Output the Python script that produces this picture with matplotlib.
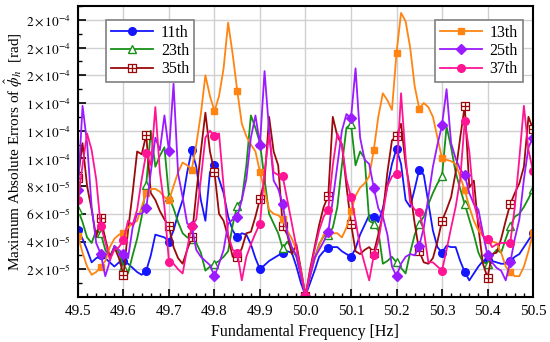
import numpy as np
import matplotlib
matplotlib.use("Agg")
from matplotlib import pyplot as plt
from matplotlib.path import Path
from matplotlib.ticker import MultipleLocator, FuncFormatter

plt.rcParams['font.family'] = 'serif'
plt.rcParams['font.serif'] = ['Liberation Serif', 'DejaVu Serif']
plt.rcParams['mathtext.fontset'] = 'stix'

# frequency grid 49.50 ... 50.50 Hz, step 0.01
freq = np.round(np.arange(49.5, 50.5001, 0.01), 2)

# errors, in units of 1e-5 rad
h11 = [4.8, 4.2, 3.4, 2.5, 2.8, 3.0, 2.8, 2.5, 2.2, 2.5,
       2.6, 2.4, 2.1, 1.8, 1.6, 1.9, 3.0, 4.5, 4.4, 4.3,
       4.0, 4.8, 6.0, 7.0, 9.0, 10.6, 9.4, 7.0, 5.5, 9.0,
       9.5, 8.5, 7.5, 5.8, 4.8, 4.3, 4.6, 4.5, 3.8, 2.8,
       2.0, 2.3, 2.6, 2.8, 3.0, 3.2, 3.3, 3.2, 2.2, 1.0,
       0.1, 1.0, 1.9, 2.9, 3.3, 3.5, 3.6, 3.6, 3.3, 3.1,
       2.9, 3.5, 4.5, 5.2, 5.9, 5.8, 5.4, 6.4, 8.0, 9.6,
       10.7, 9.6, 7.0, 6.5, 7.8, 9.2, 8.8, 6.8, 4.8, 3.6,
       3.2, 3.7, 3.6, 3.6, 2.6, 1.8, 1.2, 1.7, 2.2, 2.6,
       2.7, 2.6, 2.5, 2.4, 2.4, 2.6, 2.9, 3.1, 3.6, 4.1,
       4.6]
h13 = [4.4, 3.2, 2.2, 1.6, 1.8, 2.2, 2.6, 3.6, 4.2, 4.5,
       4.6, 5.0, 5.3, 5.5, 6.5, 7.5, 7.8, 7.8, 7.6, 7.2,
       7.0, 8.0, 9.0, 9.7, 9.5, 9.2, 11.0, 13.2, 16.0, 14.5,
       13.4, 14.5, 16.5, 19.8, 17.5, 14.9, 12.5, 11.6, 11.0, 10.5,
       9.0, 7.7, 6.3, 6.0, 5.9, 5.6, 4.8, 4.2, 3.4, 1.8,
       0.1, 1.5, 2.7, 3.7, 4.5, 4.6, 4.6, 4.6, 4.3, 5.0,
       6.2, 7.3, 7.9, 8.2, 8.7, 10.6, 13.0, 14.7, 14.2, 13.5,
       17.6, 20.5, 19.9, 18.0, 15.2, 13.6, 14.0, 13.7, 13.0, 11.5,
       10.0, 9.9, 9.8, 9.6, 8.7, 7.7, 6.5, 5.5, 4.8, 4.4,
       4.1, 4.0, 3.9, 3.2, 2.2, 1.8, 1.5, 1.5, 2.2, 3.3,
       4.6]
h23 = [6.3, 5.4, 4.3, 3.9, 4.8, 4.6, 3.4, 2.9, 3.6, 3.2,
       2.2, 1.7, 3.0, 4.2, 5.8, 8.1, 12.0, 9.4, 10.2, 10.8,
       7.2, 6.4, 5.4, 4.6, 4.3, 4.2, 3.9, 3.2, 1.9, 2.2,
       2.4, 2.6, 2.9, 3.3, 5.2, 6.6, 7.0, 9.5, 13.1, 12.2,
       11.1, 8.5, 6.0, 5.3, 4.6, 3.5, 4.0, 3.5, 2.9, 1.5,
       0.1, 1.5, 2.8, 3.8, 4.4, 4.5, 5.0, 6.5, 9.5, 12.2,
       12.5, 9.5, 10.5, 10.0, 5.5, 5.3, 4.8, 2.4, 2.6, 2.9,
       2.5, 2.1, 1.7, 3.2, 4.5, 5.3, 5.8, 6.7, 7.5, 8.2,
       8.7, 12.3, 10.8, 9.0, 7.8, 6.7, 5.6, 4.5, 3.2, 2.5,
       2.4, 3.0, 3.4, 3.2, 4.2, 5.1, 5.8, 6.0, 6.5, 7.1,
       7.8]
h25 = [7.7, 13.8, 11.1, 6.5, 3.9, 3.1, 1.5, 2.6, 3.7, 3.4,
       3.1, 2.8, 5.0, 6.0, 6.0, 6.4, 9.0, 11.5, 10.6, 13.1,
       10.5, 15.4, 8.9, 7.2, 5.3, 5.1, 3.4, 2.9, 2.6, 2.3,
       1.5, 2.4, 3.4, 5.3, 5.6, 5.8, 7.0, 8.5, 11.5, 13.1,
       11.0, 16.3, 12.0, 8.4, 7.8, 6.7, 4.6, 3.6, 3.0, 1.5,
       0.1, 1.5, 2.8, 3.4, 4.0, 4.7, 7.0, 9.5, 12.0, 13.2,
       12.9, 16.5, 11.5, 9.9, 9.6, 7.9, 6.4, 5.8, 4.5, 2.2,
       1.5, 2.4, 2.9, 3.1, 3.0, 3.7, 5.0, 7.2, 9.4, 11.0,
       12.4, 15.0, 11.1, 10.0, 9.2, 8.8, 7.5, 6.7, 6.3, 4.6,
       3.0, 2.5, 2.1, 1.9, 1.2, 2.5, 4.2, 5.6, 8.5, 10.8,
       11.5]
h35 = [8.6, 11.1, 8.0, 6.3, 4.3, 5.7, 4.2, 2.9, 3.6, 2.8,
       1.6, 4.8, 7.5, 10.5, 10.3, 11.7, 7.5, 7.0, 6.2, 5.6,
       5.1, 3.6, 2.8, 2.4, 3.4, 4.3, 7.5, 10.5, 13.3, 10.5,
       9.0, 6.0, 5.5, 4.3, 2.9, 2.9, 3.5, 4.6, 4.7, 5.8,
       7.1, 8.4, 13.0, 10.5, 9.5, 5.1, 4.5, 3.1, 3.8, 2.0,
       0.1, 2.0, 3.6, 5.2, 6.5, 7.3, 13.0, 11.6, 11.0, 8.0,
       5.3, 3.3, 3.1, 3.4, 3.6, 3.2, 4.5, 6.0, 9.0, 11.3,
       11.6, 12.5, 9.6, 7.7, 5.3, 3.3, 2.5, 2.4, 2.8, 4.0,
       5.5, 6.3, 7.2, 9.0, 11.5, 13.8, 7.9, 8.4, 5.0, 2.4,
       1.4, 3.1, 3.2, 4.2, 5.5, 6.7, 7.5, 8.2, 9.4, 13.0,
       12.1]
h37 = [7.0, 9.5, 11.8, 10.6, 8.5, 5.1, 4.0, 2.7, 3.4, 3.6,
       4.1, 5.5, 5.2, 6.3, 8.5, 10.4, 9.5, 13.7, 9.0, 6.5,
       2.5, 2.4, 2.0, 1.7, 3.5, 5.1, 5.6, 8.5, 11.5, 12.0,
       11.6, 11.8, 8.0, 4.5, 3.4, 3.2, 1.2, 2.9, 3.8, 4.6,
       5.3, 9.0, 11.7, 9.0, 8.8, 8.7, 7.0, 5.3, 3.6, 1.8,
       0.1, 1.8, 3.4, 4.8, 5.8, 6.3, 9.5, 11.8, 11.0, 8.5,
       7.2, 5.5, 3.6, 2.4, 1.2, 3.0, 4.0, 6.0, 8.0, 8.7,
       8.9, 14.7, 10.1, 6.8, 6.3, 6.1, 4.8, 2.5, 2.5, 2.2,
       1.9, 3.4, 5.0, 6.5, 8.5, 12.7, 10.5, 6.8, 5.5, 4.4,
       4.2, 3.6, 3.8, 3.9, 3.9, 3.9, 6.5, 10.0, 13.8, 10.6,
       9.1]

# square with a cross inside
boxplus = Path([(-1, -1), (1, -1), (1, 1), (-1, 1), (-1, -1), (0, -1), (0, 1), (-1, 0), (1, 0)],
               [Path.MOVETO, Path.LINETO, Path.LINETO, Path.LINETO, Path.CLOSEPOLY,
                Path.MOVETO, Path.LINETO, Path.MOVETO, Path.LINETO])

fig = plt.figure(figsize=(5.5, 3.42), dpi=100)
ax = fig.add_axes([0.1418, 0.1316, 0.8273, 0.8509])

lw = 1.3
ms = 5.5
l11, = ax.plot(freq, np.array(h11) * 1e-5, color='#1515ff', lw=lw, marker='o', ms=ms,
               markevery=5, label='11th')
l23, = ax.plot(freq, np.array(h23) * 1e-5, color='#169016', lw=lw, marker='^', ms=ms,
               mfc='white', markevery=5, label='23th')
l35, = ax.plot(freq, np.array(h35) * 1e-5, color='#9b0a0a', lw=lw, marker=boxplus, ms=ms,
               mfc='white', mew=0.9, markevery=5, label='35th')
l13, = ax.plot(freq, np.array(h13) * 1e-5, color='#ff8411', lw=lw, marker='s', ms=ms - 0.5,
               markevery=5, label='13th')
l25, = ax.plot(freq, np.array(h25) * 1e-5, color='#9b1aff', lw=lw, marker='D', ms=ms - 0.5,
               markevery=5, label='25th')
l37, = ax.plot(freq, np.array(h37) * 1e-5, color='#ff1493', lw=lw, marker='o', ms=ms,
               markevery=5, label='37th')

ax.set_xlim(49.5, 50.5)
ax.set_ylim(0, 2.1e-4)
ax.xaxis.set_major_locator(MultipleLocator(0.1))
ax.xaxis.set_minor_locator(MultipleLocator(0.02))
ax.yaxis.set_major_locator(MultipleLocator(2e-5))
ax.yaxis.set_minor_locator(MultipleLocator(1e-5))


def sci(v, pos):
    if v <= 0:
        return ''
    m, e = ('%.0e' % v).split('e')
    return r'$%s\times10^{%d}$' % (m, int(e))


ax.yaxis.set_major_formatter(FuncFormatter(sci))
ax.xaxis.set_major_formatter(FuncFormatter(lambda v, p: '%.1f' % v))
ax.tick_params(which='major', direction='in', length=6, width=1.2, labelsize=11)
ax.tick_params(which='minor', direction='in', length=3, width=1.0)
ax.tick_params(axis='y', labelsize=9.5, pad=5)
ax.tick_params(axis='x', pad=6)
for s in ax.spines.values():
    s.set_linewidth(1.5)
ax.grid(True, which='major', color='#d0d0d0', lw=1.0)
ax.set_axisbelow(True)

ax.set_xlabel('Fundamental Frequency [Hz]', fontsize=11.5)
ax.set_ylabel(r'Maximum Absolute Errors of $\hat{\phi}_h$  [rad]', fontsize=11)
ax.yaxis.set_label_coords(-0.117, 0.5)

leg1 = ax.legend(handles=[l11, l23, l35], loc='upper left', bbox_to_anchor=(0.045, 0.98),
                 fontsize=11.5, fancybox=False, edgecolor='#808080', framealpha=1,
                 handlelength=2.6, borderpad=0.3, labelspacing=0.15, handletextpad=0.5)
leg1.get_frame().set_linewidth(1.2)
ax.add_artist(leg1)
leg2 = ax.legend(handles=[l13, l25, l37], loc='upper right', bbox_to_anchor=(0.995, 0.98),
                 fontsize=11.5, fancybox=False, edgecolor='#808080', framealpha=1,
                 handlelength=2.6, borderpad=0.3, labelspacing=0.15, handletextpad=0.5)
leg2.get_frame().set_linewidth(1.2)

fig.savefig('out.png', dpi=100)
